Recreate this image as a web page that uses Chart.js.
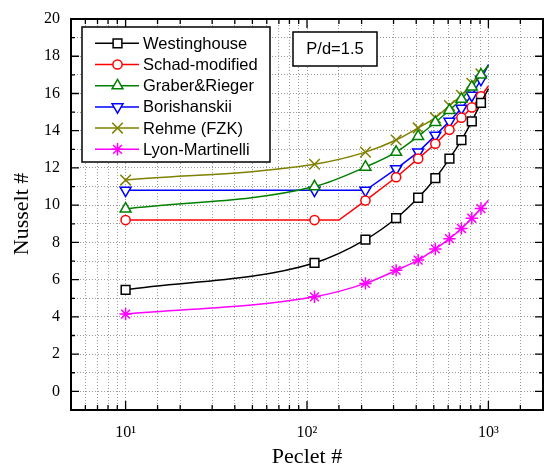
<!DOCTYPE html>
<html>
<head>
<meta charset="utf-8">
<script src="https://cdn.jsdelivr.net/npm/chart.js"></script>
<style>html,body{margin:0;padding:0;background:#fff}</style>
</head>
<body>
<canvas id="chart" width="544" height="468"></canvas>
<script>
// Peclet numbers of the markers (last value = end of the curve, no marker)
const peclet = [10, 110, 210, 310, 410, 510, 610, 710, 810, 910, 1000];
const schadPeclet = [10, 110, 150, 210, 310, 410, 510, 610, 710, 810, 910, 1000];

// Nusselt numbers
const westinghouse = [5.45, 6.9, 8.15, 9.3, 10.4, 11.45, 12.5, 13.5, 14.5, 15.5, 16.25];
const schad = [9.2, 9.2, 9.2, 10.25, 11.5, 12.5, 13.3, 14.05, 14.7, 15.25, 15.85, 16.4];
const graber = [9.8, 11.0, 12.05, 12.85, 13.7, 14.45, 15.1, 15.7, 16.35, 17.0, 17.5];
const borishanskii = [10.8, 10.8, 10.8, 11.95, 12.85, 13.75, 14.5, 15.2, 15.9, 16.75, 17.55];
const rehme = [11.35, 12.2, 12.85, 13.5, 14.15, 14.7, 15.35, 15.9, 16.55, 17.05, 17.5];
const lyon = [4.15, 5.08, 5.8, 6.5, 7.05, 7.65, 8.2, 8.75, 9.3, 9.82, 10.27];

const xTicks = [10, 100, 1000];
const yTicks = [0, 2, 4, 6, 8, 10, 12, 14, 16, 18, 20];

const SERIF = '"Liberation Serif", "Times New Roman", serif';
const SANS = '"Liberation Sans", Arial, sans-serif';
const SUP = { 1: '\u00b9', 2: '\u00b2', 3: '\u00b3' };

function pts(xs, ys) { return xs.map((x, i) => ({ x, y: ys[i] })); }
// no marker on helper points (kink at 150 and curve end at 1000)
function radii(xs, r) { return xs.map(x => (x === 150 || x === 1000) ? 0 : r); }

function series(label, xs, ys, color, style, r, opts = {}) {
  return Object.assign({
    label, data: pts(xs, ys),
    borderColor: color, borderWidth: 1.5,
    pointStyle: style, pointRadius: radii(xs, r), pointRotation: 0,
    pointBackgroundColor: '#fff', pointBorderColor: color, pointBorderWidth: 1.5,
    cubicInterpolationMode: 'monotone', tension: 0.4,
    legendRadius: r
  }, opts);
}

const datasets = [
  series('Westinghouse', peclet, westinghouse, '#000000', 'rect', 6.2),
  series('Schad-modified', schadPeclet, schad, '#ff0000', 'circle', 4.6, { cubicInterpolationMode: 'default', tension: 0 }),
  series('Graber&Rieger', peclet, graber, '#008000', 'triangle', 6.3),
  series('Borishanskii', peclet, borishanskii, '#0000ff', 'triangle', 6.3, { pointRotation: 180, cubicInterpolationMode: 'default', tension: 0 }),
  series('Rehme (FZK)', peclet, rehme, '#808000', 'crossRot', 7.5),
  series('Lyon-Martinelli', peclet, lyon, '#ff00ff', 'star', 6.2)
];

const framePlugin = {
  id: 'frame',
  afterDatasetsDraw(chart) {
    const { ctx, chartArea: a, scales: { x, y } } = chart;
    ctx.save();
    ctx.strokeStyle = '#000';
    ctx.lineWidth = 1.3;
    ctx.beginPath();
    x.ticks.forEach(t => {
      const px = x.getPixelForValue(t.value);
      if (px <= a.left + 1 || px >= a.right - 1) return;
      const e = Math.log10(t.value);
      const len = Math.abs(e - Math.round(e)) < 1e-6 ? 9 : 5;
      ctx.moveTo(px, a.bottom); ctx.lineTo(px, a.bottom - len);
      ctx.moveTo(px, a.top); ctx.lineTo(px, a.top + len);
    });
    y.ticks.forEach(t => {
      const py = y.getPixelForValue(t.value);
      if (py <= a.top + 1 || py >= a.bottom - 1) return;
      const len = t.value % 2 === 0 ? 8 : 4;
      ctx.moveTo(a.left, py); ctx.lineTo(a.left + len, py);
      ctx.moveTo(a.right, py); ctx.lineTo(a.right - len, py);
    });
    ctx.stroke();
    ctx.lineWidth = 2;
    ctx.strokeRect(a.left, a.top, a.right - a.left, a.bottom - a.top);
    ctx.restore();
  },
  afterDraw(chart) {
    const { ctx } = chart;
    ctx.save();
    // axis titles
    ctx.fillStyle = '#000';
    ctx.font = '22px ' + SERIF;
    ctx.textAlign = 'center';
    ctx.textBaseline = 'middle';
    ctx.fillText('Peclet #', 307, 457);
    ctx.translate(22, 214);
    ctx.rotate(-Math.PI / 2);
    ctx.fillText('Nusselt #', 0, 0);
    ctx.restore();

    // legend box
    ctx.save();
    ctx.fillStyle = '#fff';
    ctx.fillRect(82, 27, 188, 135);
    ctx.strokeStyle = '#000';
    ctx.lineWidth = 1.5;
    ctx.strokeRect(82, 27, 188, 135);
    chart.data.datasets.forEach((ds, i) => {
      const yy = 43.3 + i * 21.2;
      ctx.strokeStyle = ds.borderColor;
      ctx.lineWidth = 1.5;
      ctx.beginPath();
      ctx.moveTo(95, yy); ctx.lineTo(139, yy);
      ctx.stroke();
      ctx.fillStyle = '#fff';
      Chart.helpers.drawPoint(ctx, {
        pointStyle: ds.pointStyle, rotation: ds.pointRotation,
        radius: ds.legendRadius, borderWidth: 1.5
      }, 117.5, yy);
      ctx.fillStyle = '#000';
      ctx.font = '16.5px ' + SANS;
      ctx.textAlign = 'left';
      ctx.textBaseline = 'middle';
      ctx.fillText(ds.label, 143, yy + 1);
    });

    // P/d box
    ctx.fillStyle = '#fff';
    ctx.fillRect(293, 32, 84, 34);
    ctx.strokeStyle = '#000';
    ctx.lineWidth = 1.5;
    ctx.strokeRect(293, 32, 84, 34);
    ctx.fillStyle = '#000';
    ctx.font = '16.5px ' + SANS;
    ctx.textAlign = 'center';
    ctx.textBaseline = 'middle';
    ctx.fillText('P/d=1.5', 335, 49.5);
    ctx.restore();
  }
};

new Chart(document.getElementById('chart'), {
  type: 'line',
  data: { datasets },
  options: {
    responsive: false,
    animation: false,
    layout: { autoPadding: false, padding: { top: 19, right: 1, left: 0, bottom: 0 } },
    plugins: { legend: { display: false }, tooltip: { enabled: false } },
    scales: {
      x: {
        type: 'logarithmic', min: 5, max: 2000,
        afterFit: s => { s.height = 58; s.paddingLeft = 0; s.paddingRight = 0; },
        grid: { color: '#9a9a9a', lineWidth: 1, drawTicks: false },
        border: { display: false, dash: [1, 2] },
        ticks: {
          autoSkip: false, maxRotation: 0, padding: 13,
          color: '#000', font: { family: SERIF, size: 16 },
          callback: v => {
            const hit = xTicks.find(t => Math.abs(t - v) < 1e-6 * t);
            return hit ? '10' + SUP[Math.round(Math.log10(hit))] : '';
          }
        }
      },
      y: {
        min: -1, max: 20,
        afterFit: s => { s.width = 71; s.paddingTop = 0; s.paddingBottom = 0; },
        grid: { color: '#9a9a9a', lineWidth: 1, drawTicks: false },
        border: { display: false, dash: [1, 2] },
        ticks: {
          stepSize: 1, autoSkip: false, padding: 11,
          color: '#000', font: { family: SERIF, size: 16 },
          callback: v => yTicks.includes(v) ? String(v) : ''
        }
      }
    }
  },
  plugins: [framePlugin]
});
</script>
</body>
</html>
